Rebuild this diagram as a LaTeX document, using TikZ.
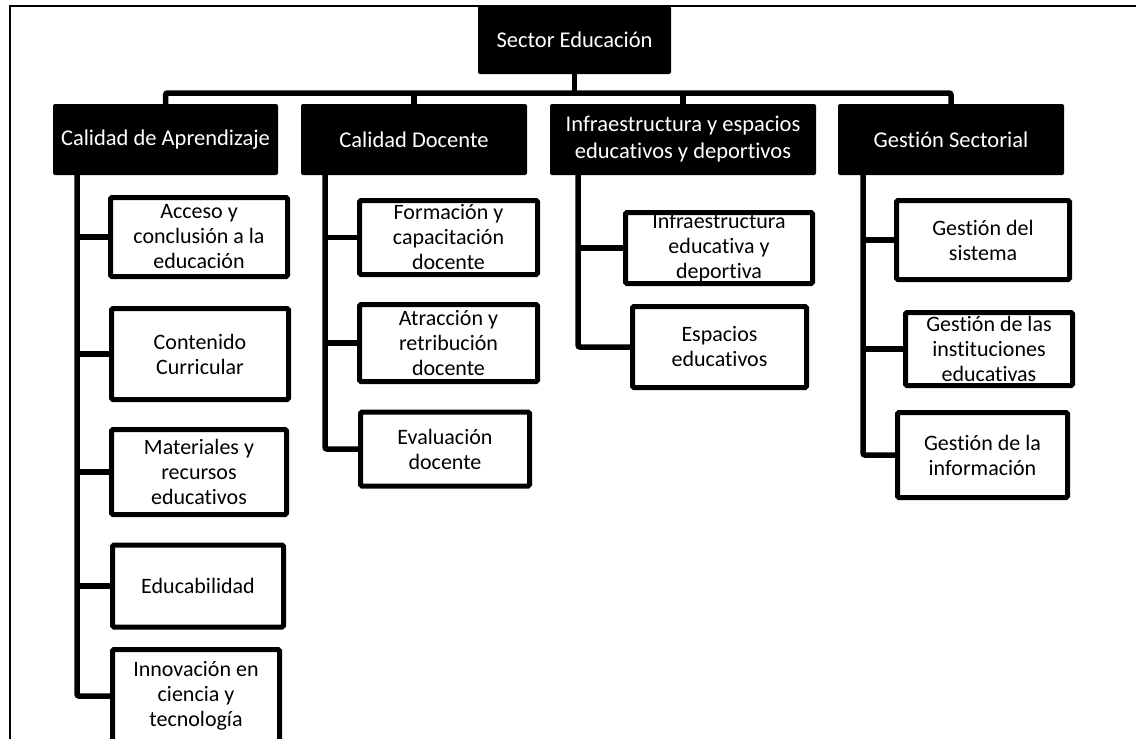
\documentclass[tikz,border=0pt]{standalone}
\usepackage{fontspec}
\setmainfont{Carlito}[Ligatures=NoCommon]
\begin{document}
\begin{tikzpicture}[x=1pt,y=-1pt,
  head/.style={fill=black, text=white, rounded corners=2pt, inner sep=0pt, align=center,
    font=\fontsize{22.5}{27}\selectfont},
  leaf/.style={draw=black, line width=5pt, fill=white, rounded corners=1.5pt, inner sep=0pt,
    align=center, font=\fontsize{22}{25}\selectfont},
  conn/.style={line width=5.5pt, rounded corners=2pt},
  frame/.style={line width=1.5pt}]
\useasboundingbox (0,0) rectangle (1136,739);
% frame
\coordinate (fbl) at (10,739);
\coordinate (ftl) at (10,6);
\coordinate (ftr) at (1136,6);
\draw[frame] (fbl) -- (ftl) -- (ftr);
% top
\node[head, minimum width=193pt, minimum height=68pt] (top) at (574.5,40) {Sector Educación};
% heads
\node[head, minimum width=225pt, minimum height=71pt] (ca) at (165.5,139.5) {Calidad de Aprendizaje};
\node[head, minimum width=226pt, minimum height=71pt] (cd) at (414,139.5) {Calidad Docente};
\node[head, minimum width=266pt, minimum height=71pt] (inf) at (683,139.5) {Infraestructura y espacios\\educativos y deportivos};
\node[head, minimum width=226pt, minimum height=71pt] (gs) at (951,139.5) {Gestión Sectorial};
% bar
\coordinate (bar) at (0,93);
\draw[conn] (ca.north) -- (ca.north |- bar) -- (gs.north |- bar) -- (gs.north);
\draw[conn] (top.south) -- (top.south |- bar);
\draw[conn] (cd.north) -- (cd.north |- bar);
\draw[conn] (inf.north) -- (inf.north |- bar);
% CA leaves
\node[leaf, minimum width=177pt, minimum height=79pt] (a1) at (199,237) {Acceso y\\conclusión a la\\educación};
\node[leaf, minimum width=177pt, minimum height=91pt] (a2) at (200,354) {Contenido\\Curricular};
\node[leaf, minimum width=175pt, minimum height=85pt] (a3) at (199,472) {Materiales y\\recursos\\educativos};
\node[leaf, minimum width=171pt, minimum height=82pt] (a4) at (198,586) {Educabilidad};
\node[leaf, minimum width=167pt, minimum height=93pt] (a5) at (196,696) {Innovación en\\ciencia y\\tecnología};
% CD leaves
\node[leaf, minimum width=178pt, minimum height=74pt] (d1) at (448.5,237.5) {Formación y\\capacitación\\docente};
\node[leaf, minimum width=178pt, minimum height=77pt] (d2) at (448.5,343) {Atracción y\\retribución\\docente};
\node[leaf, minimum width=169pt, minimum height=74pt] (d3) at (445,449) {Evaluación\\docente};
% Inf leaves
\node[leaf, minimum width=187pt, minimum height=71pt] (i1) at (719,248) {Infraestructura\\educativa y\\deportiva};
\node[leaf, minimum width=174pt, minimum height=81pt] (i2) at (719.5,347) {Espacios\\educativos};
% GS leaves
\node[leaf, minimum width=173pt, minimum height=79pt] (g1) at (983,240) {Gestión del\\sistema};
\node[leaf, minimum width=167pt, minimum height=73pt] (g2) at (989,349) {Gestión de las\\instituciones\\educativas};
\node[leaf, minimum width=170pt, minimum height=85pt] (g3) at (982.5,455) {Gestión de la\\información};
% spines
\coordinate (caS) at (77,0);
\coordinate (cdS) at (325,0);
\coordinate (infS) at (578,0);
\coordinate (gsS) at (863,0);
\draw[conn] (ca.south -| caS) |- (a5.west);
\draw[conn] (caS |- a1.west) -- (a1.west);
\draw[conn] (caS |- a2.west) -- (a2.west);
\draw[conn] (caS |- a3.west) -- (a3.west);
\draw[conn] (caS |- a4.west) -- (a4.west);
\draw[conn] (cd.south -| cdS) |- (d3.west);
\draw[conn] (cdS |- d1.west) -- (d1.west);
\draw[conn] (cdS |- d2.west) -- (d2.west);
\draw[conn] (inf.south -| infS) |- (i2.west);
\draw[conn] (infS |- i1.west) -- (i1.west);
\draw[conn] (gs.south -| gsS) |- (g3.west);
\draw[conn] (gsS |- g1.west) -- (g1.west);
\draw[conn] (gsS |- g2.west) -- (g2.west);
\end{tikzpicture}
\end{document}
